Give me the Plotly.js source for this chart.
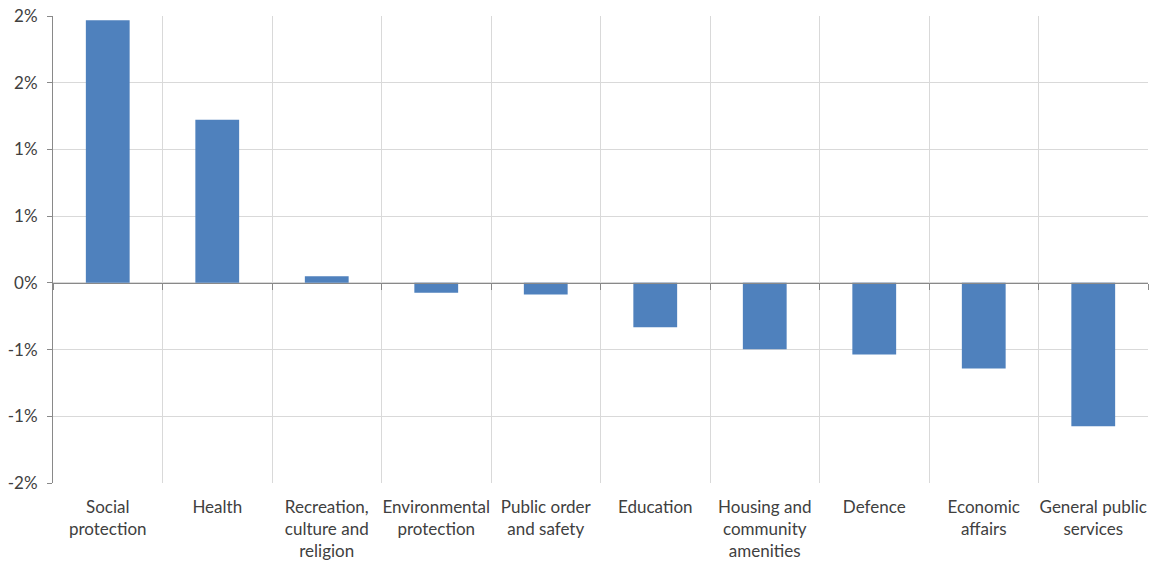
<!DOCTYPE html>
<html>
<head>
<meta charset="utf-8">
<script src="https://cdn.plot.ly/plotly-3.0.1.min.js"></script>
<style>
  html, body { margin: 0; padding: 0; background: #ffffff; }
  #chart { width: 1152px; height: 561px; }
</style>
</head>
<body>
<div id="chart"></div>
<script>
// Change in spending share by function of government (percentage points)
const categories = [
  'Social<br>protection',
  'Health',
  'Recreation,<br>culture and<br>religion',
  'Environmental<br>protection',
  'Public order<br>and safety',
  'Education',
  'Housing and<br>community<br>amenities',
  'Defence',
  'Economic<br>affairs',
  'General public<br>services'
];
const changes = [1.968, 1.223, 0.05, -0.075, -0.087, -0.333, -0.497, -0.537, -0.642, -1.075];

const tickVals = [2, 1.5, 1, 0.5, 0, -0.5, -1, -1.5];
const tickLabels = ['2%', '2%', '1%', '1%', '0%', '-1%', '-1%', '-2%'];

const barColor = '#4F81BD';
const gridColor = '#D9D9D9';
const axisColor = '#898989';
const textColor = '#404040';
const fontFamily = 'Lato, Open Sans, sans-serif';

const bars = {
  type: 'bar',
  x: categories,
  y: changes,
  marker: { color: barColor, line: { width: 0 } },
  hoverinfo: 'x+y',
  xaxis: 'x',
  yaxis: 'y'
};

// Same bars, invisible, carrying the category axis that sits on the zero line
const zeroAxisCarrier = {
  type: 'bar',
  x: categories,
  y: changes,
  marker: { color: 'rgba(0,0,0,0)' },
  hoverinfo: 'skip',
  showlegend: false,
  xaxis: 'x2',
  yaxis: 'y'
};

const yMin = -1.5, yMax = 2;

const layout = {
  width: 1152,
  height: 561,
  margin: { l: 53, r: 4, t: 16, b: 78 },
  paper_bgcolor: '#ffffff',
  plot_bgcolor: '#ffffff',
  showlegend: false,
  bargap: 0.6,
  font: { family: fontFamily, color: textColor, size: 17 },
  xaxis: {
    type: 'category',
    tickson: 'boundaries',
    tickangle: 0,
    showgrid: true,
    gridcolor: gridColor,
    gridwidth: 1,
    showline: false,
    ticks: '',
    ticklabelstandoff: 12,
    tickfont: { family: fontFamily, size: 17, color: textColor },
    fixedrange: true
  },
  xaxis2: {
    type: 'category',
    overlaying: 'x',
    anchor: 'free',
    position: (0 - yMin) / (yMax - yMin),
    side: 'bottom',
    tickson: 'boundaries',
    ticks: 'outside',
    ticklen: 6,
    tickcolor: axisColor,
    showline: true,
    linecolor: axisColor,
    linewidth: 1,
    showgrid: false,
    showticklabels: false,
    fixedrange: true
  },
  yaxis: {
    range: [yMin, yMax],
    tickmode: 'array',
    tickvals: tickVals,
    ticktext: tickLabels,
    showgrid: true,
    gridcolor: gridColor,
    gridwidth: 1,
    zeroline: false,
    showline: true,
    linecolor: axisColor,
    linewidth: 1,
    ticks: 'outside',
    ticklen: 5,
    tickcolor: axisColor,
    ticklabelstandoff: 6,
    tickfont: { family: fontFamily, size: 17, color: textColor },
    fixedrange: true
  }
};

Plotly.newPlot('chart', [bars, zeroAxisCarrier], layout, { displayModeBar: false, staticPlot: true });
</script>
</body>
</html>
